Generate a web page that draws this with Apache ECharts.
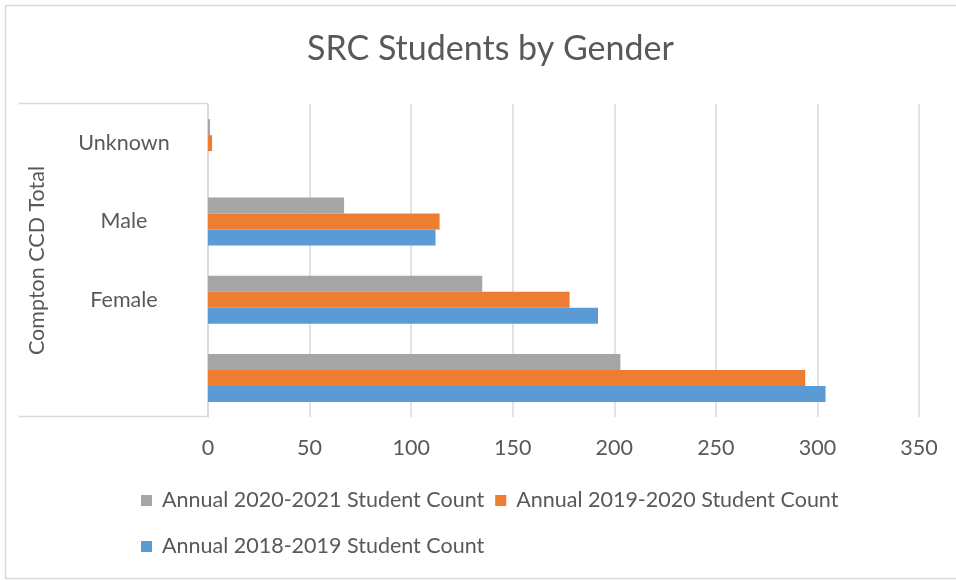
<!DOCTYPE html>
<html lang="en">
<head>
    <meta charset="utf-8">
    <script src="https://cdn.jsdelivr.net/npm/echarts@6/dist/echarts.min.js"></script>
    <style>
        html, body { margin:0; padding:0; background:#fff; }
        #main { width:956px; height:580px; }
    </style>
</head>
<body>
<div id="main"></div>
<script type="text/javascript">
    // categories bottom -> top
    var genders = ['', 'Female', 'Male', 'Unknown'];
    var count2021 = [203, 135, 67, 1];
    var count2020 = [294, 178, 114, 2];
    var count2019 = [304, 192, 112, 0];
    var seriesNames = ['Annual 2020-2021 Student Count', 'Annual 2019-2020 Student Count', 'Annual 2018-2019 Student Count'];
    var xTicks = [0, 350, 50]; // min, max, step

    var font = 'Lato, Carlito, Calibri, sans-serif';
    var txt = '#595959';
    var gridCol = '#d9d9d9';
    var fs = 21.5;

    var myChart = echarts.init(document.getElementById('main'));
    myChart.setOption({
        animation: false,
        color: ['#a5a5a5', '#ed7d31', '#5b9bd5'],
        textStyle: { fontFamily: font },
        title: {
            text: 'SRC Students by Gender',
            left: 302,
            top: 27,
            textStyle: { fontFamily: font, fontSize: 34, fontWeight: 'normal', color: txt }
        },
        legend: {
            data: seriesNames,
            left: 136,
            top: 478,
            width: 740,
            icon: 'rect',
            itemWidth: 11,
            itemHeight: 11,
            itemGap: 11,
            textStyle: { fontFamily: font, fontSize: fs, color: txt, lineHeight: 35, padding: [0, 0, 0, 5] }
        },
        grid: { left: 208, right: 37, top: 104, bottom: 163 },
        xAxis: {
            type: 'value',
            min: xTicks[0],
            max: xTicks[1],
            interval: xTicks[2],
            axisLine: { show: false },
            axisTick: { show: false },
            axisLabel: { fontFamily: font, fontSize: fs, color: txt, margin: 20 },
            splitLine: { lineStyle: { color: gridCol, width: 1.5 } }
        },
        yAxis: {
            type: 'category',
            data: genders,
            name: 'Compton CCD Total',
            nameLocation: 'middle',
            nameRotate: 90,
            nameGap: 160,
            nameTextStyle: { fontFamily: font, fontSize: fs, color: txt },
            axisLine: { show: true, lineStyle: { color: gridCol, width: 1.5 } },
            axisTick: { show: false },
            axisLabel: { fontFamily: font, fontSize: fs, color: txt, align: 'center', margin: 84 }
        },
        graphic: [
            { type: 'rect', shape: { x: 5.5, y: 5.5, width: 960, height: 573 }, style: { fill: 'none', stroke: gridCol, lineWidth: 1.5 }, silent: true },
            { type: 'line', shape: { x1: 19, y1: 103.5, x2: 208, y2: 103.5 }, style: { stroke: gridCol, lineWidth: 1.5 }, silent: true },
            { type: 'line', shape: { x1: 19, y1: 416.5, x2: 208, y2: 416.5 }, style: { stroke: gridCol, lineWidth: 1.5 }, silent: true }
        ],
        series: [
            { name: seriesNames[0], type: 'bar', data: count2021, barWidth: 16, barGap: '0%' },
            { name: seriesNames[1], type: 'bar', data: count2020, barWidth: 16, barGap: '0%' },
            { name: seriesNames[2], type: 'bar', data: count2019, barWidth: 16, barGap: '0%' }
        ]
    });
</script>
</body>
</html>
